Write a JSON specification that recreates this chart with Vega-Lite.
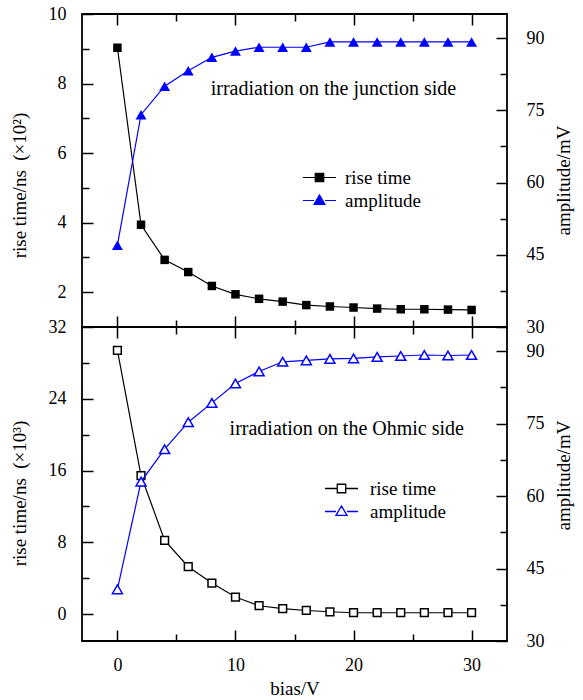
{
  "$schema": "https://vega.github.io/schema/vega-lite/v6.json",
  "padding": {"left": 9, "top": 4, "right": 5, "bottom": 5},
  "spacing": 0,
  "bounds": "flush",
  "datasets": {
    "top": [
      {"bias": 0, "rise": 9.03, "amp": 47.0},
      {"bias": 2, "rise": 3.94, "amp": 74.1},
      {"bias": 4, "rise": 2.93, "amp": 80.0},
      {"bias": 6, "rise": 2.58, "amp": 83.2},
      {"bias": 8, "rise": 2.18, "amp": 86.0},
      {"bias": 10, "rise": 1.94, "amp": 87.3},
      {"bias": 12, "rise": 1.81, "amp": 88.1},
      {"bias": 14, "rise": 1.73, "amp": 88.1},
      {"bias": 16, "rise": 1.63, "amp": 88.1},
      {"bias": 18, "rise": 1.59, "amp": 89.2},
      {"bias": 20, "rise": 1.56, "amp": 89.2},
      {"bias": 22, "rise": 1.53, "amp": 89.2},
      {"bias": 24, "rise": 1.51, "amp": 89.2},
      {"bias": 26, "rise": 1.51, "amp": 89.2},
      {"bias": 28, "rise": 1.5, "amp": 89.2},
      {"bias": 30, "rise": 1.49, "amp": 89.2}
    ],
    "bottom": [
      {"bias": 0, "rise": 29.4, "amp": 40.7},
      {"bias": 2, "rise": 15.44, "amp": 63.0},
      {"bias": 4, "rise": 8.22, "amp": 69.7},
      {"bias": 6, "rise": 5.28, "amp": 75.3},
      {"bias": 8, "rise": 3.46, "amp": 79.3},
      {"bias": 10, "rise": 1.9, "amp": 83.3},
      {"bias": 12, "rise": 0.93, "amp": 85.8},
      {"bias": 14, "rise": 0.6, "amp": 87.8},
      {"bias": 16, "rise": 0.4, "amp": 88.1},
      {"bias": 18, "rise": 0.26, "amp": 88.4},
      {"bias": 20, "rise": 0.15, "amp": 88.5},
      {"bias": 22, "rise": 0.15, "amp": 88.8},
      {"bias": 24, "rise": 0.15, "amp": 89.0},
      {"bias": 26, "rise": 0.15, "amp": 89.2},
      {"bias": 28, "rise": 0.15, "amp": 89.1},
      {"bias": 30, "rise": 0.15, "amp": 89.2}
    ]
  },
  "vconcat": [
    {
      "width": 425,
      "height": 313,
      "data": {"name": "top"},
      "layer": [
        {
          "mark": {"type": "line", "strokeWidth": 1.2, "point": {"shape": "square", "size": 72, "filled": true}},
          "encoding": {
            "x": {"field": "bias", "type": "quantitative",
              "scale": {"domain": [-3, 33], "nice": false, "zero": false},
              "axis": {"orient": "bottom", "labels": false, "title": null, "values": [0, 5, 10, 15, 20, 25, 30],
                "tickSize": {"condition": {"test": "datum.value % 10 === 0", "value": -11}, "value": -7}}},
            "y": {"field": "rise", "type": "quantitative",
              "scale": {"domain": [1, 10], "nice": false, "zero": false},
              "axis": {"orient": "left", "title": "rise time/ns\u2002(×10²)", "values": [2, 3, 4, 5, 6, 7, 8, 9, 10],
                "labelExpr": "datum.value % 2 === 0 ? datum.label : ''", "labelPadding": 27, "titlePadding": 19, "titleY": 171,
                "tickSize": {"condition": {"test": "datum.value % 2 === 0", "value": -11}, "value": -7}}},
            "color": {"datum": "rise time", "type": "nominal",
              "scale": {"domain": ["rise time", "amplitude"], "range": ["black", "blue"]},
              "legend": {"orient": "none", "legendX": 228, "legendY": 154, "title": null, "padding": 0, "rowPadding": 3,
                "symbolSize": 72, "labelOffset": 16, "labelFont": "Liberation Serif", "labelFontSize": 19, "labelColor": "black",
                "encode": {"symbols": {"update": {
                  "shape": {"signal": "datum.value === 'rise time' ? 'M-3.9,0H-1M1,0H3.9M-1,-1H1V1H-1Z' : 'M-3.9,0H-1.3M1.3,0H3.9M-1.3,0.9L0,-1.3L1.3,0.9Z'"},
                  "stroke": {"signal": "datum.value === 'rise time' ? 'black' : 'blue'"},
                  "fill": {"signal": "datum.value === 'rise time' ? 'black' : 'blue'"},
                  "strokeWidth": {"value": 1.2}, "opacity": {"value": 1}, "fillOpacity": {"value": 1}}}}}}
          }
        },
        {
          "mark": {"type": "line", "strokeWidth": 1.2, "point": {"shape": "triangle-up", "size": 120, "filled": true}},
          "encoding": {
            "x": {"field": "bias", "type": "quantitative",
              "scale": {"domain": [-3, 33], "nice": false, "zero": false},
              "axis": {"orient": "top", "labels": false, "title": null, "values": [0, 5, 10, 15, 20, 25, 30],
                "tickSize": {"condition": {"test": "datum.value % 10 === 0", "value": -11}, "value": -7}}},
            "y": {"field": "amp", "type": "quantitative",
              "scale": {"domain": [30, 95], "nice": false, "zero": false},
              "axis": {"orient": "right", "title": "amplitude/mV", "titleAngle": 270, "values": [30, 37.5, 45, 52.5, 60, 67.5, 75, 82.5, 90],
                "labelExpr": "datum.value % 15 === 0 ? datum.label : ''", "labelPadding": 30, "titlePadding": 29, "titleY": 166,
                "tickSize": {"condition": {"test": "datum.value % 15 === 0", "value": -11}, "value": -7}}},
            "color": {"datum": "amplitude", "type": "nominal",
              "scale": {"domain": ["rise time", "amplitude"], "range": ["black", "blue"]},
              "legend": {"orient": "none", "legendX": 228, "legendY": 154, "title": null, "padding": 0, "rowPadding": 3,
                "symbolSize": 72, "labelOffset": 16, "labelFont": "Liberation Serif", "labelFontSize": 19, "labelColor": "black",
                "encode": {"symbols": {"update": {
                  "shape": {"signal": "datum.value === 'rise time' ? 'M-3.9,0H-1M1,0H3.9M-1,-1H1V1H-1Z' : 'M-3.9,0H-1.3M1.3,0H3.9M-1.3,0.9L0,-1.3L1.3,0.9Z'"},
                  "stroke": {"signal": "datum.value === 'rise time' ? 'black' : 'blue'"},
                  "fill": {"signal": "datum.value === 'rise time' ? 'black' : 'blue'"},
                  "strokeWidth": {"value": 1.2}, "opacity": {"value": 1}, "fillOpacity": {"value": 1}}}}}}
          }
        },
        {
          "data": {"values": [{}]},
          "mark": {"type": "text", "align": "left", "baseline": "middle", "font": "Liberation Serif", "fontSize": 20, "color": "black"},
          "encoding": {
            "x": {"datum": 7.9, "type": "quantitative", "axis": null},
            "y": {"datum": 7.85, "type": "quantitative", "scale": {"domain": [1, 10], "nice": false, "zero": false}, "axis": null},
            "text": {"value": "irradiation on the junction side"}
          }
        }
      ],
      "resolve": {"scale": {"y": "independent"}, "axis": {"x": "independent", "y": "independent"}}
    },
    {
      "width": 425,
      "height": 314,
      "data": {"name": "bottom"},
      "layer": [
        {
          "mark": {"type": "line", "strokeWidth": 1.2, "point": {"shape": "square", "size": 60, "filled": false, "fill": "white", "strokeWidth": 1.5}},
          "encoding": {
            "x": {"field": "bias", "type": "quantitative",
              "scale": {"domain": [-3, 33], "nice": false, "zero": false},
              "axis": {"orient": "bottom", "title": "bias/V", "values": [0, 5, 10, 15, 20, 25, 30],
                "labelExpr": "datum.value % 10 === 0 ? datum.label : ''", "labelPadding": 26, "titlePadding": 1,
                "tickSize": {"condition": {"test": "datum.value % 10 === 0", "value": -11}, "value": -7}}},
            "y": {"field": "rise", "type": "quantitative",
              "scale": {"domain": [-3, 32], "nice": false, "zero": false},
              "axis": {"orient": "left", "title": "rise time/ns\u2002(×10³)", "values": [0, 4, 8, 12, 16, 20, 24, 28, 32],
                "labelExpr": "datum.value % 8 === 0 ? datum.label : ''", "labelPadding": 27, "titlePadding": 19, "titleY": 166,
                "tickSize": {"condition": {"test": "datum.value % 8 === 0", "value": -11}, "value": -7}}},
            "color": {"datum": "rise time", "type": "nominal",
              "scale": {"domain": ["rise time", "amplitude"], "range": ["black", "blue"]},
              "legend": {"orient": "none", "legendX": 250, "legendY": 152, "title": null, "padding": 0, "rowPadding": 3,
                "symbolSize": 72, "labelOffset": 19, "labelFont": "Liberation Serif", "labelFontSize": 19, "labelColor": "black",
                "encode": {"symbols": {"update": {
                  "shape": {"signal": "datum.value === 'rise time' ? 'M-3.9,0H-1M1,0H3.9M-1,-1H1V1H-1Z' : 'M-3.9,0H-1.3M1.3,0H3.9M-1.3,0.9L0,-1.3L1.3,0.9Z'"},
                  "stroke": {"signal": "datum.value === 'rise time' ? 'black' : 'blue'"},
                  "fill": {"value": "white"},
                  "strokeWidth": {"value": 1.3}, "opacity": {"value": 1}, "fillOpacity": {"value": 1}}}}}}
          }
        },
        {
          "mark": {"type": "line", "strokeWidth": 1.2, "point": {"shape": "triangle-up", "size": 100, "filled": false, "fill": "white", "strokeWidth": 1.5}},
          "encoding": {
            "x": {"field": "bias", "type": "quantitative",
              "scale": {"domain": [-3, 33], "nice": false, "zero": false},
              "axis": {"orient": "top", "labels": false, "title": null, "values": [0, 5, 10, 15, 20, 25, 30],
                "tickSize": {"condition": {"test": "datum.value % 10 === 0", "value": -11}, "value": -7}}},
            "y": {"field": "amp", "type": "quantitative",
              "scale": {"domain": [30, 95], "nice": false, "zero": false},
              "axis": {"orient": "right", "title": "amplitude/mV", "titleAngle": 270, "values": [30, 37.5, 45, 52.5, 60, 67.5, 75, 82.5, 90],
                "labelExpr": "datum.value % 15 === 0 ? datum.label : ''", "labelPadding": 30, "titlePadding": 29, "titleY": 148,
                "tickSize": {"condition": {"test": "datum.value % 15 === 0", "value": -11}, "value": -7}}},
            "color": {"datum": "amplitude", "type": "nominal",
              "scale": {"domain": ["rise time", "amplitude"], "range": ["black", "blue"]},
              "legend": {"orient": "none", "legendX": 250, "legendY": 152, "title": null, "padding": 0, "rowPadding": 3,
                "symbolSize": 72, "labelOffset": 19, "labelFont": "Liberation Serif", "labelFontSize": 19, "labelColor": "black",
                "encode": {"symbols": {"update": {
                  "shape": {"signal": "datum.value === 'rise time' ? 'M-3.9,0H-1M1,0H3.9M-1,-1H1V1H-1Z' : 'M-3.9,0H-1.3M1.3,0H3.9M-1.3,0.9L0,-1.3L1.3,0.9Z'"},
                  "stroke": {"signal": "datum.value === 'rise time' ? 'black' : 'blue'"},
                  "fill": {"value": "white"},
                  "strokeWidth": {"value": 1.3}, "opacity": {"value": 1}, "fillOpacity": {"value": 1}}}}}}
          }
        },
        {
          "data": {"values": [{}]},
          "mark": {"type": "text", "align": "left", "baseline": "middle", "font": "Liberation Serif", "fontSize": 20, "color": "black"},
          "encoding": {
            "x": {"datum": 9.5, "type": "quantitative", "axis": null},
            "y": {"datum": 20.6, "type": "quantitative", "scale": {"domain": [-3, 32], "nice": false, "zero": false}, "axis": null},
            "text": {"value": "irradiation on the Ohmic side"}
          }
        }
      ],
      "resolve": {"scale": {"y": "independent"}, "axis": {"x": "independent", "y": "independent"}}
    }
  ],
  "resolve": {"scale": {"color": "independent"}, "legend": {"color": "independent"}},
  "config": {
    "background": "white",
    "view": {"stroke": "black", "strokeWidth": 1.8},
    "axis": {
      "domain": false, "grid": false, "ticks": true,
      "tickColor": "black", "tickWidth": 1.5,
      "labelFont": "Liberation Serif", "labelFontSize": 18, "labelColor": "black",
      "labelFlush": false, "labelOverlap": false, "labelBound": false,
      "titleFont": "Liberation Serif", "titleFontSize": 19, "titleFontWeight": "normal", "titleColor": "black"
    }
  }
}
